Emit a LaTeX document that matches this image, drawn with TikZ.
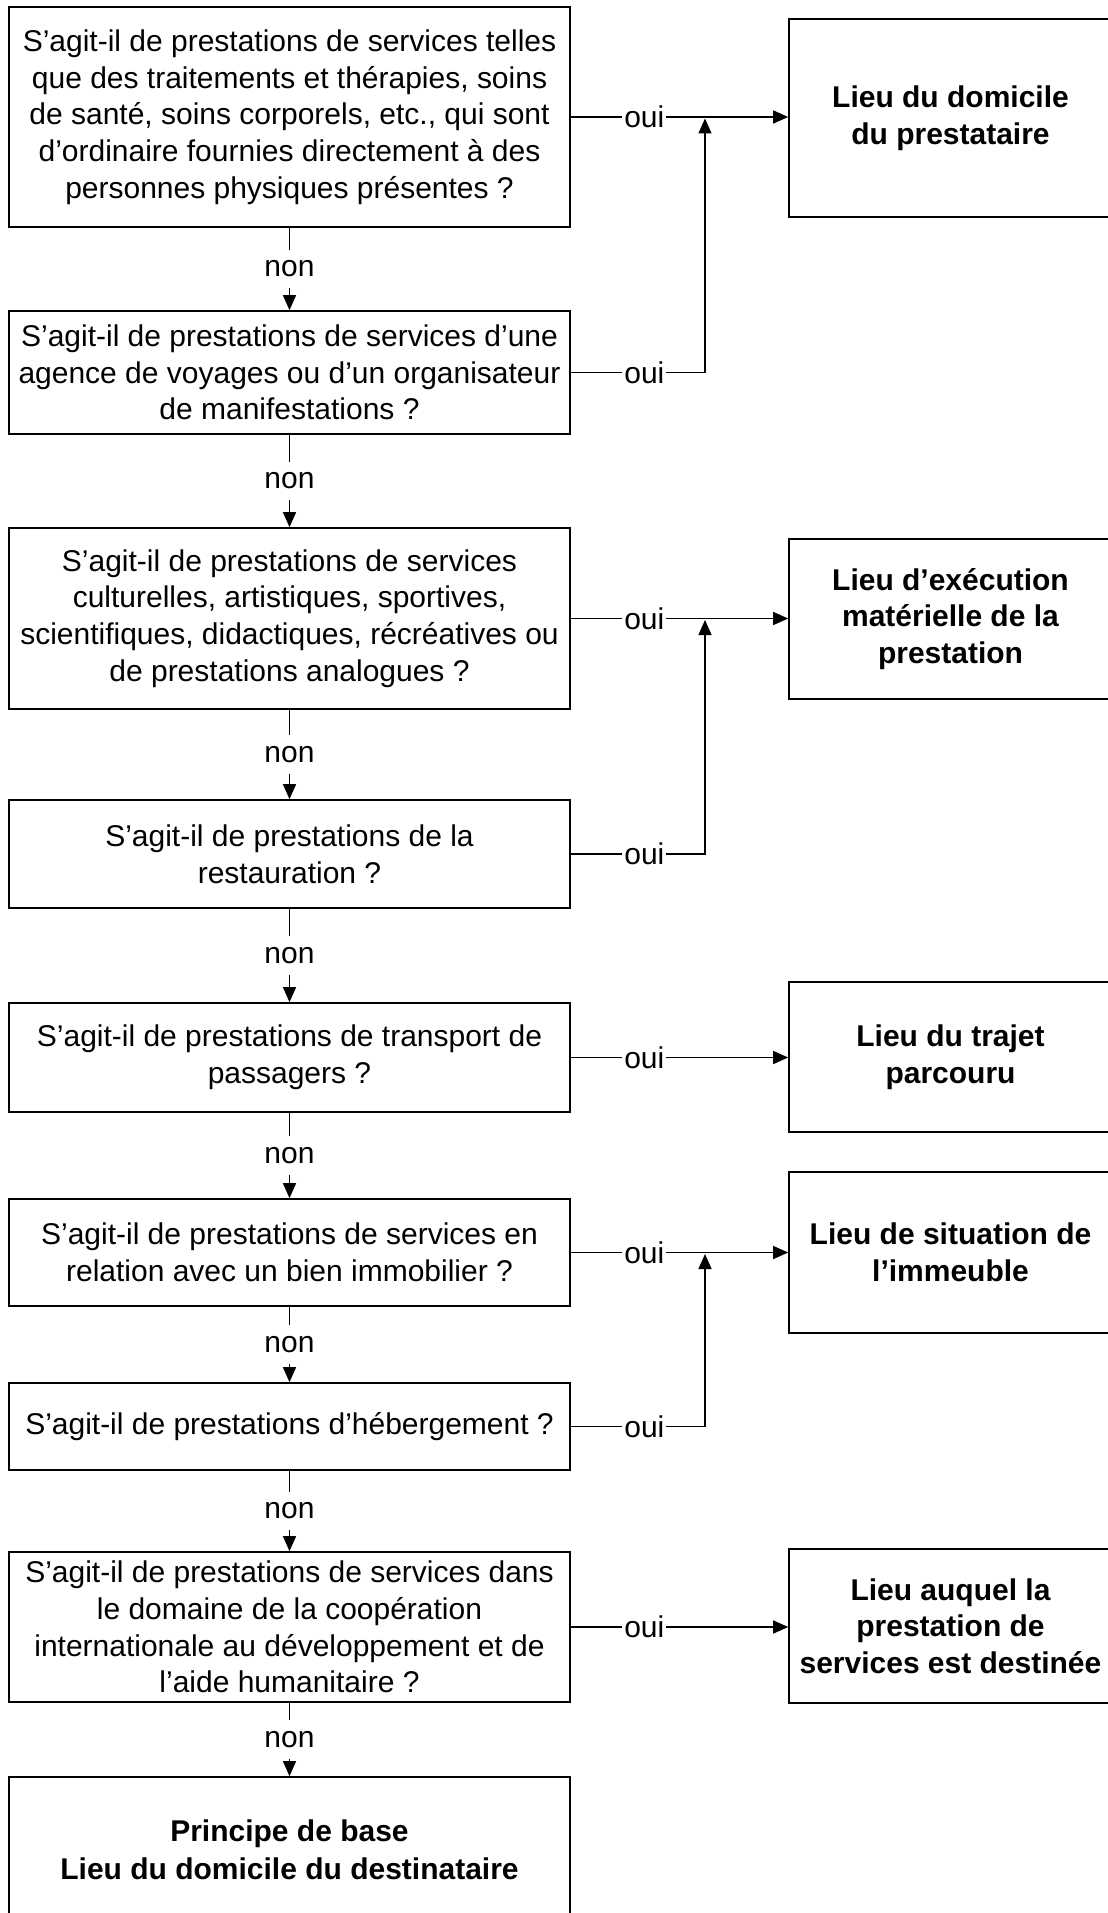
\documentclass[tikz,border=0pt]{standalone}
\usepackage{fontspec}
\setmainfont{Liberation Sans}
\usetikzlibrary{arrows.meta}

\tikzset{
  question/.style={draw, line width=0.95pt, align=center, inner sep=0pt,
    minimum width=11.22cm, font=\fontsize{17.07}{20.9}\selectfont},
  lieu/.style={draw, line width=0.95pt, align=center, inner sep=0pt,
    minimum width=6.46cm, font=\fontsize{17.07}{20.9}\selectfont\bfseries},
  fleche/.style={line width=0.75pt, -{Triangle[length=0.3cm,width=0.26cm]}},
  etiq/.style={fill=white, inner xsep=0.04cm, inner ysep=0.22cm,
    font=\fontsize{17.07}{20.9}\selectfont}
}

\begin{document}
\begin{tikzpicture}[x=0.02cm, y=-0.02cm]
  \useasboundingbox (0,0) rectangle (1107,1913);

  % Questions (colonne de gauche)
  \node[question, minimum height=4.40cm] (q1) at (289.5,117) {S’agit-il de prestations de services telles\\que des traitements et thérapies, soins\\de santé, soins corporels, etc., qui sont\\d’ordinaire fournies directement à des\\personnes physiques présentes ?};
  \node[question, minimum height=2.46cm] (q2) at (289.5,372.5) {S’agit-il de prestations de services d’une\\agence de voyages ou d’un organisateur\\de manifestations ?};
  \node[question, minimum height=3.62cm] (q3) at (289.5,618.5) {S’agit-il de prestations de services\\culturelles, artistiques, sportives,\\scientifiques, didactiques, récréatives ou\\de prestations analogues ?};
  \node[question, minimum height=2.16cm] (q4) at (289.5,854) {S’agit-il de prestations de la\\restauration ?};
  \node[question, minimum height=2.18cm] (q5) at (289.5,1057.5) {S’agit-il de prestations de transport de\\passagers ?};
  \node[question, minimum height=2.14cm] (q6) at (289.5,1252.5) {S’agit-il de prestations de services en\\relation avec un bien immobilier ?};
  \node[question, minimum height=1.74cm] (q7) at (289.5,1426.5) {S’agit-il de prestations d’hébergement ?};
  \node[question, minimum height=3.00cm] (q8) at (289.5,1627) {S’agit-il de prestations de services dans\\le domaine de la coopération\\internationale au développement et de\\l’aide humanitaire ?};
  \node[question, minimum height=2.92cm, font=\fontsize{17.07}{21.8}\selectfont\bfseries] (q9) at (289.5,1850) {Principe de base\\Lieu du domicile du destinataire};

  % Lieux (colonne de droite)
  \node[lieu, minimum height=3.96cm] (r1) at (950.5,118) {Lieu du domicile\\du prestataire};
  \node[lieu, minimum height=3.20cm] (r2) at (950.5,619) {Lieu d’exécution\\matérielle de la\\prestation};
  \node[lieu, minimum height=3.00cm] (r3) at (950.5,1057) {Lieu du trajet\\parcouru};
  \node[lieu, minimum height=3.22cm] (r4) at (950.5,1252.5) {Lieu de situation de\\l’immeuble};
  \node[lieu, minimum height=3.08cm] (r5) at (950.5,1626) {Lieu auquel la\\prestation de\\services est destinée};

  % Points de jonction
  \coordinate (j1) at (705,118.5);
  \coordinate (j2) at (705,620);
  \coordinate (j3) at (705,1254);

  % Réponses "non"
  \foreach \from/\to in {q1/q2, q2/q3, q3/q4, q4/q5, q5/q6, q6/q7, q7/q8, q8/q9}
    \draw[fleche] (\from) -- node[etiq] {non} (\to);

  % Réponses "oui" directes
  \foreach \from/\to in {q1/r1, q3/r2, q5/r3, q6/r4, q8/r5}
    \draw[fleche] (\from.east) -- node[etiq, pos=0.338] {oui} (\from.east -| \to.west);

  % Réponses "oui" par jonction
  \foreach \from/\to in {q2/j1, q4/j2, q7/j3}
    \draw[fleche] (\from.east) -- node[etiq, pos=0.548] {oui} (\from.east -| \to) -- (\to);
\end{tikzpicture}
\end{document}
